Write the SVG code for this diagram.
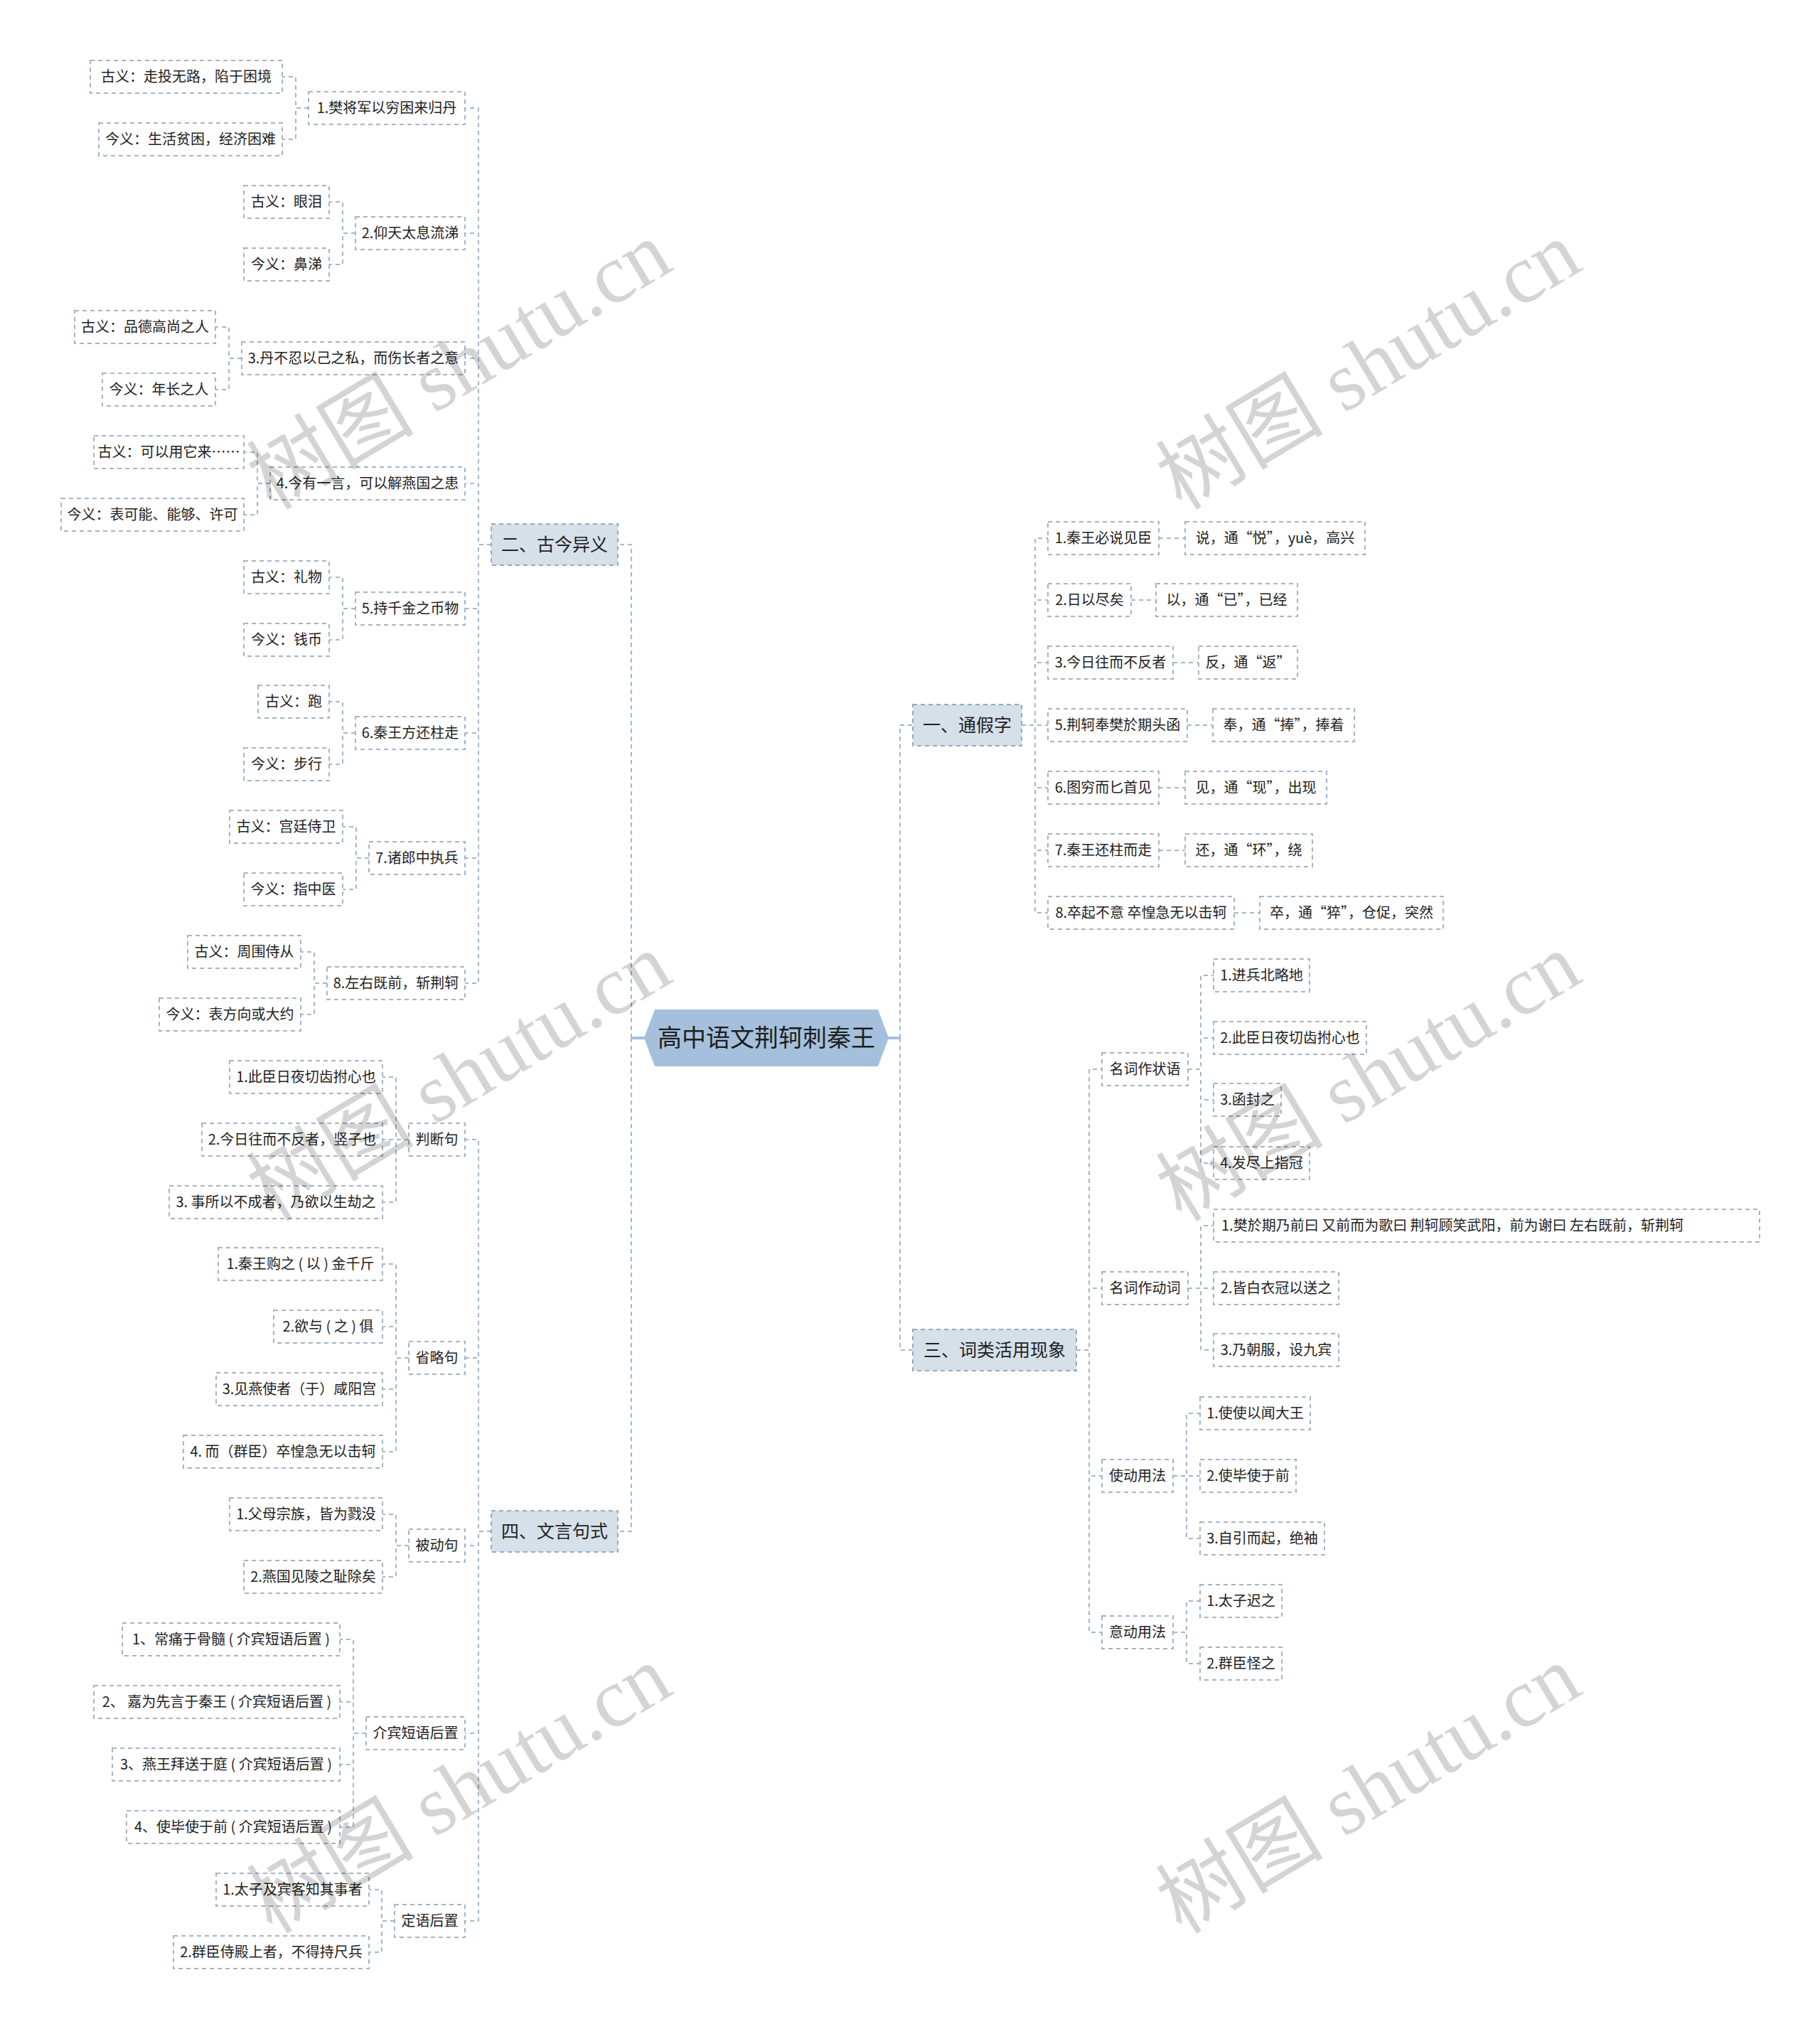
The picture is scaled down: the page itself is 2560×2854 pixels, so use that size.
<svg xmlns="http://www.w3.org/2000/svg" width="2560" height="2854" viewBox="0 0 2560 2854">
<style>
text{font-family:"Noto Sans CJK SC","Noto Sans",sans-serif;fill:#222;}
.conn path{fill:none;stroke:#a3b8cb;stroke-width:2;stroke-dasharray:6 5;}
.solid{stroke:#a4c0dc;stroke-width:4;}
.n2 rect{fill:#fff;stroke:#a3b5c6;stroke-width:2;stroke-dasharray:6 5;}
.n2 text{font-size:20px;text-anchor:middle;}
.fw{font-feature-settings:"fwid" 1;}
.n1 rect{fill:#d6e0e9;stroke:#94aabf;stroke-width:2;stroke-dasharray:6 5;}
.n1 text{font-size:25px;text-anchor:middle;}
.root polygon{fill:#a4c0dc;}
.root text{font-size:34px;text-anchor:middle;fill:#1e1e1e;}
.wm{font-family:"Liberation Serif","Noto Sans CJK SC",serif;font-size:118px;fill:#000;fill-opacity:0.17;text-anchor:middle;}
</style>
<rect x="0" y="0" width="2560" height="2854" fill="#fff"/>
<g class="conn" id="connectors">
<line class="solid" x1="888" y1="1460" x2="907" y2="1460"/>
<line class="solid" x1="1249" y1="1460" x2="1266" y2="1460"/>
<path d="M888,1460 V766 H869"/>
<path d="M888,1460 V2154 H869"/>
<path d="M1266,1460 V1020 H1284"/>
<path d="M1266,1460 V1899 H1284"/>
<path d="M691,766 H673 V152 H654"/>
<path d="M691,766 H673 V328 H654"/>
<path d="M691,766 H673 V504 H654"/>
<path d="M691,766 H673 V680 H654"/>
<path d="M691,766 H673 V856 H654"/>
<path d="M691,766 H673 V1031 H654"/>
<path d="M691,766 H673 V1207 H654"/>
<path d="M691,766 H673 V1383 H654"/>
<path d="M434,152 H416 V108 H397"/>
<path d="M434,152 H416 V196 H397"/>
<path d="M500,328 H482 V284 H463"/>
<path d="M500,328 H482 V372 H463"/>
<path d="M340,504 H322 V460 H303"/>
<path d="M340,504 H322 V548 H303"/>
<path d="M380,680 H362 V636 H343"/>
<path d="M380,680 H362 V724 H343"/>
<path d="M500,856 H482 V812 H463"/>
<path d="M500,856 H482 V900 H463"/>
<path d="M500,1031 H482 V987 H463"/>
<path d="M500,1031 H482 V1075 H463"/>
<path d="M519,1207 H501 V1163 H482"/>
<path d="M519,1207 H501 V1251 H482"/>
<path d="M460,1383 H442 V1339 H423"/>
<path d="M460,1383 H442 V1427 H423"/>
<path d="M691,2154 H673 V1603 H654"/>
<path d="M691,2154 H673 V1910 H654"/>
<path d="M691,2154 H673 V2174 H654"/>
<path d="M691,2154 H673 V2438 H654"/>
<path d="M691,2154 H673 V2702 H654"/>
<path d="M575,1603 H557 V1515 H538"/>
<path d="M575,1603 H557 V1603 H538"/>
<path d="M575,1603 H557 V1691 H538"/>
<path d="M575,1910 H557 V1778 H538"/>
<path d="M575,1910 H557 V1866 H538"/>
<path d="M575,1910 H557 V1954 H538"/>
<path d="M575,1910 H557 V2042 H538"/>
<path d="M575,2174 H557 V2130 H538"/>
<path d="M575,2174 H557 V2218 H538"/>
<path d="M515,2438 H497 V2306 H478"/>
<path d="M515,2438 H497 V2394 H478"/>
<path d="M515,2438 H497 V2482 H478"/>
<path d="M515,2438 H497 V2570 H478"/>
<path d="M555,2702 H537 V2658 H519"/>
<path d="M555,2702 H537 V2746 H519"/>
<path d="M1437,1020 H1456 V757 H1474"/>
<path d="M1437,1020 H1456 V844 H1474"/>
<path d="M1437,1020 H1456 V932 H1474"/>
<path d="M1437,1020 H1456 V1020 H1474"/>
<path d="M1437,1020 H1456 V1108 H1474"/>
<path d="M1437,1020 H1456 V1196 H1474"/>
<path d="M1437,1020 H1456 V1284 H1474"/>
<path d="M1630,757 H1667"/>
<path d="M1591,844 H1626"/>
<path d="M1650,932 H1686"/>
<path d="M1670,1020 H1706"/>
<path d="M1630,1108 H1667"/>
<path d="M1630,1196 H1667"/>
<path d="M1736,1284 H1772"/>
<path d="M1514,1899 H1532 V1504 H1550"/>
<path d="M1514,1899 H1532 V1812 H1550"/>
<path d="M1514,1899 H1532 V2076 H1550"/>
<path d="M1514,1899 H1532 V2296 H1550"/>
<path d="M1671,1504 H1689 V1372 H1707"/>
<path d="M1671,1504 H1689 V1460 H1707"/>
<path d="M1671,1504 H1689 V1547 H1707"/>
<path d="M1671,1504 H1689 V1636 H1707"/>
<path d="M1671,1812 H1689 V1724 H1707"/>
<path d="M1671,1812 H1689 V1812 H1707"/>
<path d="M1671,1812 H1689 V1899 H1707"/>
<path d="M1650,2076 H1669 V1988 H1688"/>
<path d="M1650,2076 H1669 V2076 H1688"/>
<path d="M1650,2076 H1669 V2164 H1688"/>
<path d="M1650,2296 H1669 V2252 H1688"/>
<path d="M1650,2296 H1669 V2340 H1688"/>
</g>

<g id="root" class="root">
<polygon points="906,1460 921,1420 1235,1420 1250,1460 1235,1500 921,1500"/>
<text x="1078" y="1472">高中语文荆轲刺秦王</text>
</g>

<g id="b2" class="n1"><rect x="691" y="737" width="178" height="58"/><text x="780" y="775">二、古今异义</text></g>
<g id="b4" class="n1"><rect x="691" y="2125" width="178" height="58"/><text x="780" y="2163">四、文言句式</text></g>
<g id="b1" class="n1"><rect x="1284" y="991" width="153" height="58"/><text x="1360.5" y="1029">一、通假字</text></g>
<g id="b3" class="n1"><rect x="1284" y="1870" width="230" height="58"/><text x="1399" y="1908">三、词类活用现象</text></g>

<g id="g1" class="n2"><rect x="434" y="129" width="220" height="46"/><text x="544" y="159">1.樊将军以穷困来归丹</text></g>
<g id="g1a" class="n2"><rect x="127" y="85" width="270" height="46"/><text x="262" y="115">古义：走投无路，陷于困境</text></g>
<g id="g1b" class="n2"><rect x="139" y="173" width="258" height="46"/><text x="268" y="203">今义：生活贫困，经济困难</text></g>
<g id="g2" class="n2"><rect x="500" y="305" width="154" height="46"/><text x="577" y="335">2.仰天太息流涕</text></g>
<g id="g2a" class="n2"><rect x="343" y="261" width="120" height="46"/><text x="403" y="291">古义：眼泪</text></g>
<g id="g2b" class="n2"><rect x="343" y="349" width="120" height="46"/><text x="403" y="379">今义：鼻涕</text></g>
<g id="g3" class="n2"><rect x="340" y="481" width="314" height="46"/><text x="497" y="511">3.丹不忍以己之私，而伤长者之意</text></g>
<g id="g3a" class="n2"><rect x="105" y="437" width="198" height="46"/><text x="204" y="467">古义：品德高尚之人</text></g>
<g id="g3b" class="n2"><rect x="144" y="525" width="159" height="46"/><text x="223.5" y="555">今义：年长之人</text></g>
<g id="g4" class="n2"><rect x="380" y="657" width="274" height="46"/><text x="517" y="687">4.今有一言，可以解燕国之患</text></g>
<g id="g4a" class="n2"><rect x="132" y="613" width="211" height="46"/><text x="237.5" y="643">古义：可以用它来……</text></g>
<g id="g4b" class="n2"><rect x="86" y="701" width="257" height="46"/><text x="214.5" y="731">今义：表可能、能够、许可</text></g>
<g id="g5" class="n2"><rect x="500" y="833" width="154" height="46"/><text x="577" y="863">5.持千金之币物</text></g>
<g id="g5a" class="n2"><rect x="343" y="789" width="120" height="46"/><text x="403" y="819">古义：礼物</text></g>
<g id="g5b" class="n2"><rect x="343" y="877" width="120" height="46"/><text x="403" y="907">今义：钱币</text></g>
<g id="g6" class="n2"><rect x="500" y="1008" width="154" height="46"/><text x="577" y="1038">6.秦王方还柱走</text></g>
<g id="g6a" class="n2"><rect x="363" y="964" width="100" height="46"/><text x="413" y="994">古义：跑</text></g>
<g id="g6b" class="n2"><rect x="343" y="1052" width="120" height="46"/><text x="403" y="1082">今义：步行</text></g>
<g id="g7" class="n2"><rect x="519" y="1184" width="135" height="46"/><text x="586.5" y="1214">7.诸郎中执兵</text></g>
<g id="g7a" class="n2"><rect x="323" y="1140" width="159" height="46"/><text x="402.5" y="1170">古义：宫廷侍卫</text></g>
<g id="g7b" class="n2"><rect x="343" y="1228" width="139" height="46"/><text x="412.5" y="1258">今义：指中医</text></g>
<g id="g8" class="n2"><rect x="460" y="1360" width="194" height="46"/><text x="557" y="1390">8.左右既前，斩荆轲</text></g>
<g id="g8a" class="n2"><rect x="264" y="1316" width="159" height="46"/><text x="343.5" y="1346">古义：周围侍从</text></g>
<g id="g8b" class="n2"><rect x="224" y="1404" width="199" height="46"/><text x="323.5" y="1434">今义：表方向或大约</text></g>

<g id="pd" class="n2"><rect x="575" y="1580" width="79" height="46"/><text x="614.5" y="1610">判断句</text></g>
<g id="pd1" class="n2"><rect x="323" y="1492" width="215" height="46"/><text x="430.5" y="1522">1.此臣日夜切齿拊心也</text></g>
<g id="pd2" class="n2"><rect x="284" y="1580" width="254" height="46"/><text x="411" y="1610">2.今日往而不反者，竖子也</text></g>
<g id="pd3" class="n2"><rect x="238" y="1668" width="300" height="46"/><text x="388" y="1698">3. 事所以不成者，乃欲以生劫之</text></g>
<g id="sl" class="n2"><rect x="575" y="1887" width="79" height="46"/><text x="614.5" y="1917">省略句</text></g>
<g id="sl1" class="n2"><rect x="307" y="1755" width="231" height="46"/><text x="422.5" y="1785">1.秦王购之 ( 以 ) 金千斤</text></g>
<g id="sl2" class="n2"><rect x="385" y="1843" width="153" height="46"/><text x="461.5" y="1873">2.欲与 ( 之 ) 俱</text></g>
<g id="sl3" class="n2"><rect x="304" y="1931" width="234" height="46"/><text x="421" y="1961">3.见燕使者（于）咸阳宫</text></g>
<g id="sl4" class="n2"><rect x="258" y="2019" width="280" height="46"/><text x="398" y="2049">4. 而（群臣）卒惶急无以击轲</text></g>
<g id="bd" class="n2"><rect x="575" y="2151" width="79" height="46"/><text x="614.5" y="2181">被动句</text></g>
<g id="bd1" class="n2"><rect x="323" y="2107" width="215" height="46"/><text x="430.5" y="2137">1.父母宗族，皆为戮没</text></g>
<g id="bd2" class="n2"><rect x="343" y="2195" width="195" height="46"/><text x="440.5" y="2225">2.燕国见陵之耻除矣</text></g>
<g id="jb" class="n2"><rect x="515" y="2415" width="139" height="46"/><text x="584.5" y="2445">介宾短语后置</text></g>
<g id="jb1" class="n2"><rect x="172" y="2283" width="306" height="46"/><text x="325" y="2313">1、常痛于骨髓 ( 介宾短语后置 )</text></g>
<g id="jb2" class="n2"><rect x="132" y="2371" width="346" height="46"/><text x="305" y="2401">2、 嘉为先言于秦王 ( 介宾短语后置 )</text></g>
<g id="jb3" class="n2"><rect x="158" y="2459" width="320" height="46"/><text x="318" y="2489">3、燕王拜送于庭 ( 介宾短语后置 )</text></g>
<g id="jb4" class="n2"><rect x="178" y="2547" width="300" height="46"/><text x="328" y="2577">4、使毕使于前 ( 介宾短语后置 )</text></g>
<g id="dy" class="n2"><rect x="555" y="2679" width="99" height="46"/><text x="604.5" y="2709">定语后置</text></g>
<g id="dy1" class="n2"><rect x="304" y="2635" width="215" height="46"/><text x="411.5" y="2665">1.太子及宾客知其事者</text></g>
<g id="dy2" class="n2"><rect x="244" y="2723" width="275" height="46"/><text x="381.5" y="2753">2.群臣侍殿上者，不得持尺兵</text></g>

<g id="t1" class="n2"><rect x="1474" y="734" width="156" height="46"/><text x="1552" y="764">1.秦王必说见臣</text></g>
<g id="t1c" class="n2"><rect x="1667" y="734" width="253" height="46"/><text x="1793.5" y="764">说，通<tspan class="fw">“</tspan>悦<tspan class="fw">”</tspan>，yuè，高兴</text></g>
<g id="t2" class="n2"><rect x="1474" y="821" width="117" height="46"/><text x="1532.5" y="851">2.日以尽矣</text></g>
<g id="t2c" class="n2"><rect x="1626" y="821" width="199" height="46"/><text x="1725.5" y="851">以，通<tspan class="fw">“</tspan>已<tspan class="fw">”</tspan>，已经</text></g>
<g id="t3" class="n2"><rect x="1474" y="909" width="176" height="46"/><text x="1562" y="939">3.今日往而不反者</text></g>
<g id="t3c" class="n2"><rect x="1686" y="909" width="139" height="46"/><text x="1755.5" y="939">反，通<tspan class="fw">“</tspan>返<tspan class="fw">”</tspan></text></g>
<g id="t5" class="n2"><rect x="1474" y="997" width="196" height="46"/><text x="1572" y="1027">5.荆轲奉樊於期头函</text></g>
<g id="t5c" class="n2"><rect x="1706" y="997" width="199" height="46"/><text x="1805.5" y="1027">奉，通<tspan class="fw">“</tspan>捧<tspan class="fw">”</tspan>，捧着</text></g>
<g id="t6" class="n2"><rect x="1474" y="1085" width="156" height="46"/><text x="1552" y="1115">6.图穷而匕首见</text></g>
<g id="t6c" class="n2"><rect x="1667" y="1085" width="199" height="46"/><text x="1766.5" y="1115">见，通<tspan class="fw">“</tspan>现<tspan class="fw">”</tspan>，出现</text></g>
<g id="t7" class="n2"><rect x="1474" y="1173" width="156" height="46"/><text x="1552" y="1203">7.秦王还柱而走</text></g>
<g id="t7c" class="n2"><rect x="1667" y="1173" width="179" height="46"/><text x="1756.5" y="1203">还，通<tspan class="fw">“</tspan>环<tspan class="fw">”</tspan>，绕</text></g>
<g id="t8" class="n2"><rect x="1474" y="1261" width="262" height="46"/><text x="1605" y="1291">8.卒起不意 卒惶急无以击轲</text></g>
<g id="t8c" class="n2"><rect x="1772" y="1261" width="258" height="46"/><text x="1901" y="1291">卒，通<tspan class="fw">“</tspan>猝<tspan class="fw">”</tspan>，仓促，突然</text></g>

<g id="mz" class="n2"><rect x="1550" y="1481" width="121" height="46"/><text x="1610.5" y="1511">名词作状语</text></g>
<g id="mz1" class="n2"><rect x="1707" y="1349" width="135" height="46"/><text x="1774.5" y="1379">1.进兵北略地</text></g>
<g id="mz2" class="n2"><rect x="1707" y="1437" width="215" height="46"/><text x="1814.5" y="1467">2.此臣日夜切齿拊心也</text></g>
<g id="mz3" class="n2"><rect x="1707" y="1524" width="95" height="46"/><text x="1754.5" y="1554">3.函封之</text></g>
<g id="mz4" class="n2"><rect x="1707" y="1613" width="135" height="46"/><text x="1774.5" y="1643">4.发尽上指冠</text></g>
<g id="md" class="n2"><rect x="1550" y="1789" width="121" height="46"/><text x="1610.5" y="1819">名词作动词</text></g>
<g id="md1" class="n2"><rect x="1707" y="1701" width="768" height="46"/><text x="1718" y="1731" style="text-anchor:start">1.樊於期乃前曰 又前而为歌曰 荆轲顾笑武阳，前为谢曰 左右既前，斩荆轲</text></g>
<g id="md2" class="n2"><rect x="1707" y="1789" width="176" height="46"/><text x="1795" y="1819">2.皆白衣冠以送之</text></g>
<g id="md3" class="n2"><rect x="1707" y="1876" width="176" height="46"/><text x="1795" y="1906">3.乃朝服，设九宾</text></g>
<g id="sd" class="n2"><rect x="1550" y="2053" width="100" height="46"/><text x="1600" y="2083">使动用法</text></g>
<g id="sd1" class="n2"><rect x="1688" y="1965" width="155" height="46"/><text x="1765.5" y="1995">1.使使以闻大王</text></g>
<g id="sd2" class="n2"><rect x="1688" y="2053" width="135" height="46"/><text x="1755.5" y="2083">2.使毕使于前</text></g>
<g id="sd3" class="n2"><rect x="1688" y="2141" width="175" height="46"/><text x="1775.5" y="2171">3.自引而起，绝袖</text></g>
<g id="yd" class="n2"><rect x="1550" y="2273" width="100" height="46"/><text x="1600" y="2303">意动用法</text></g>
<g id="yd1" class="n2"><rect x="1688" y="2229" width="115" height="46"/><text x="1745.5" y="2259">1.太子迟之</text></g>
<g id="yd2" class="n2"><rect x="1688" y="2317" width="115" height="46"/><text x="1745.5" y="2347">2.群臣怪之</text></g>

<g id="watermarks">
<text class="wm" x="646" y="554" transform="rotate(-31 646 514)">树图 shutu.cn</text>
<text class="wm" x="646" y="1555" transform="rotate(-31 646 1515)">树图 shutu.cn</text>
<text class="wm" x="646" y="2557" transform="rotate(-31 646 2517)">树图 shutu.cn</text>
<text class="wm" x="1925" y="554" transform="rotate(-31 1925 514)">树图 shutu.cn</text>
<text class="wm" x="1925" y="1555" transform="rotate(-31 1925 1515)">树图 shutu.cn</text>
<text class="wm" x="1925" y="2557" transform="rotate(-31 1925 2517)">树图 shutu.cn</text>
</g>
</svg>
